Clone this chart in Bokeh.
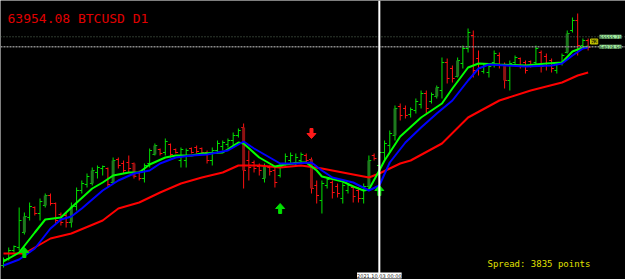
from bokeh.plotting import figure
from bokeh.models import Range1d, Span, Label, ColumnDataSource
from bokeh.embed import file_html
from bokeh.resources import INLINE

symbol_text = "63954.08 BTCUSD D1"
spread_text = "Spread: 3835 points"
vline_date = "2021.10.03 00:00"
vline_idx = 72

highs = [32450, 33950, 34250, 39950, 39200, 40700, 40100, 41300, 42050, 42050,
         40700, 39200, 39200, 40700, 42950, 44000, 45050, 45950, 46250, 46250,
         45950, 47450, 47450, 47000, 47750, 46700, 45500, 46550, 48800, 49550,
         48800, 50300, 49550, 48800, 48950, 48800, 48950, 49250, 48950, 48500,
         48950, 50000, 50000, 50300, 51200, 51800, 52550, 48500, 47000, 46550,
         46550, 46250, 45950, 46550, 48050, 48200, 48050, 48200, 48050, 47450,
         44000, 44000, 44450, 44000, 43550, 43700, 43550, 43250, 42950, 43550,
         47750, 48050, 48500, 50000, 51500, 55250, 55550, 55250, 54950, 56300,
         57500, 57500, 57200, 58250, 62450, 62300, 61250, 62450, 64250, 66800,
         66500, 63500, 61550, 61550, 63500, 63200, 61700, 62000, 62750, 62450,
         62000, 62000, 64250, 63500, 63050, 62300, 61700, 63050, 66500, 68450,
         69050, 65300, 65300]
lows = [30950, 32000, 33200, 33500, 35900, 38000, 38750, 38000, 39950, 40250,
        37550, 37250, 36950, 36950, 39500, 42050, 42950, 43250, 44300, 44750,
        42950, 43550, 45800, 45050, 45200, 44300, 44000, 43700, 45950, 47750,
        47750, 47750, 47450, 48050, 45950, 45950, 48050, 48050, 48050, 46550,
        46250, 48050, 48500, 48950, 49250, 50450, 42800, 44000, 45200, 44750,
        43700, 44750, 42950, 44450, 46250, 46550, 46250, 46700, 46550, 42050,
        40550, 39050, 42800, 41300, 41450, 40550, 42050, 40700, 40700, 40550,
        42800, 47000, 44450, 47000, 48200, 50000, 53000, 53300, 53450, 54050,
        54800, 54050, 55550, 56300, 56300, 58550, 58700, 59450, 60800, 63200,
        59450, 59750, 60050, 59450, 60950, 60800, 57800, 57500, 61250, 60800,
        60050, 60950, 61250, 60200, 60500, 60200, 60050, 61250, 63050, 66200,
        62750, 63950, 63500]
opens = [31250, 32300, 33500, 33950, 36200, 38450, 39950, 39050, 40250, 41750,
         40550, 38900, 38750, 37700, 40100, 42500, 43400, 43550, 45200, 45800,
         45800, 43700, 47150, 46550, 46700, 46550, 45200, 44300, 46550, 47900,
         48650, 48200, 49400, 48650, 47000, 47000, 48800, 48950, 48800, 48200,
         47000, 48500, 49100, 49400, 50000, 50750, 51950, 47000, 46700, 46100,
         44300, 45950, 45500, 44750, 46550, 47000, 46700, 47000, 47750, 47150,
         43250, 41000, 43250, 43700, 43100, 41300, 42500, 42950, 42500, 41300,
         43100, 47750, 46250, 48200, 49250, 50750, 55100, 54800, 53900, 54500,
         55400, 57050, 55850, 56600, 57500, 61700, 60800, 59600, 61550, 63800,
         65750, 62300, 60350, 60200, 61700, 62750, 61400, 59000, 61700, 62300,
         61700, 61850, 61700, 63200, 62600, 62000, 60500, 61550, 63200, 66500,
         68000, 64250, 65000]
closes = [32150, 33500, 34100, 38000, 38600, 40100, 39050, 40850, 41750, 40550,
          38000, 37700, 37700, 40100, 42500, 43550, 44600, 45500, 45950, 46100,
          43400, 47000, 46250, 45500, 45800, 44600, 44300, 46250, 48500, 49250,
          48050, 49850, 47900, 48200, 48650, 48500, 48200, 48350, 48200, 47000,
          48500, 49550, 49700, 50000, 50750, 51500, 45500, 45950, 45800, 45500,
          46100, 45350, 43700, 46100, 47600, 47750, 47450, 47900, 47000, 42800,
          41750, 43550, 44150, 42200, 42050, 43250, 43250, 41600, 41300, 43100,
          47000, 47300, 48200, 49550, 51050, 54800, 53750, 53750, 54650, 55850,
          57050, 54800, 56900, 57950, 61700, 59300, 59300, 62000, 63800, 66200,
          60500, 60800, 61250, 61100, 63050, 61400, 59000, 61550, 62450, 61250,
          60500, 61250, 63800, 61100, 61250, 60800, 61400, 62750, 66050, 68000,
          64250, 65000, 63950]
marked_bars = [4, 8, 13, 17, 21, 25, 29, 46, 50, 59, 70, 75, 83, 87, 96, 108]

fast_idx = [0, 3, 6, 8, 11, 13, 17, 19, 21, 24, 26, 28, 31, 33, 36, 38, 42, 45, 46, 49,
            52, 54, 57, 58, 60, 61, 65, 67, 69, 70, 72, 73, 76, 80, 84, 86, 89, 91, 95, 100,
            104, 107, 109, 111, 112]
fast_ma = [31850, 33200, 36200, 38150, 38450, 39950, 42800, 43700, 44750, 45200,
           45200, 46400, 47450, 47750, 47750, 48050, 48200, 49700, 49550, 47450,
           46100, 46400, 46700, 46700, 45500, 44600, 43850, 43100, 42500, 42650,
           45500, 47000, 50600, 53450, 55550, 57800, 60950, 61550, 61400, 61250,
           61550, 61700, 63350, 63950, 64100]
mid_idx = [0, 3, 6, 9, 11, 13, 15, 19, 22, 25, 28, 30, 33, 36, 39, 43, 46, 48, 50, 53,
           56, 59, 61, 63, 67, 70, 72, 74, 77, 80, 83, 86, 89, 91, 93, 100, 105, 107, 109, 111,
           112]
mid_ma = [31250, 32150, 33800, 36800, 38150, 38600, 39800, 42500, 44000, 45050,
          45500, 46550, 47450, 47750, 47900, 48500, 49850, 48800, 47900, 46550,
          46550, 46700, 45500, 44450, 43700, 42500, 43250, 46700, 49700, 51950,
          54050, 56000, 59000, 60800, 61400, 61100, 61250, 61550, 62750, 63800,
          63950]
slow_idx = [0, 4, 9, 13, 19, 22, 26, 30, 34, 38, 42, 45, 49, 53, 57, 61, 65, 68, 70, 72,
            76, 78, 84, 89, 95, 101, 107, 110, 112]
slow_ma = [33050, 33050, 35300, 36050, 38000, 39800, 40700, 42200, 43550, 44450,
           45200, 46250, 46250, 45950, 46250, 45800, 45200, 44750, 44450, 45050,
           46550, 47000, 49550, 53450, 56000, 57500, 58700, 59750, 60200]

buy_idx = [4, 53, 72]
buy_price = [33950, 40550, 43250]
sell_idx = [59]
sell_price = [50300]

level_prices = [65555.71, 64078.50]
level_labels = ["65555.71", "64078.50"]
marker_price = 64850
marker_text = "62"

n = len(highs)
idx = list(range(n))
UP, DN = "#00e000", "#ff1010"
UPD, DND = "#1d7a1d", "#8e1212"
bar_col = [UP if closes[i] >= opens[i] else DN for i in idx]

p = figure(width=625, height=279, x_range=Range1d(-0.575, 119.16), y_range=Range1d(29150, 71000),
           output_backend="svg", toolbar_location=None, min_border=0,
           x_axis_location=None, y_axis_location=None,
           background_fill_color="black", border_fill_color="black")
p.grid.visible = False
p.outline_line_color = None

p.add_layout(Span(location=level_prices[0], dimension="width", line_color="#5d735d", line_dash="1 2", line_width=1))
p.add_layout(Span(location=level_prices[1], dimension="width", line_color="#8a8a8a", line_dash="2 1", line_width=1.5))

src = ColumnDataSource(dict(x=idx, h=highs, l=lows, o=opens, c=closes, col=bar_col,
                            xo=[i - 0.45 for i in idx], xc=[i + 0.45 for i in idx]))
p.segment(x0="x", y0="l", x1="x", y1="h", line_color="col", line_width=1, source=src)
p.segment(x0="xo", y0="o", x1="x", y1="o", line_color="col", line_width=1, source=src)
p.segment(x0="x", y0="c", x1="xc", y1="c", line_color="col", line_width=1, source=src)

mk = [i for i in marked_bars]
p.segment(x0=mk, y0=[opens[i] for i in mk], x1=mk, y1=[closes[i] for i in mk],
          line_color=[UPD if closes[i] >= opens[i] else DND for i in mk], line_width=3)

p.line(slow_idx, slow_ma, line_color="#ff0000", line_width=2)
p.line(fast_idx, fast_ma, line_color="#00ff00", line_width=2)
p.line(mid_idx, mid_ma, line_color="#0000ff", line_width=2)

# signal arrows (size in pixels converted to data units)
bx = 1 / 5.22
py = 150
xs, ys = [], []
for i, pr in zip(buy_idx, buy_price):
    xs.append([i, i + 4.5 * bx, i + 1.5 * bx, i + 1.5 * bx, i - 1.5 * bx, i - 1.5 * bx, i - 4.5 * bx])
    ys.append([pr, pr - 5 * py, pr - 5 * py, pr - 10 * py, pr - 10 * py, pr - 5 * py, pr - 5 * py])
p.patches(xs, ys, fill_color="#00e000", line_color="#00e000")
xs, ys = [], []
for i, pr in zip(sell_idx, sell_price):
    xs.append([i, i + 4.5 * bx, i + 1.5 * bx, i + 1.5 * bx, i - 1.5 * bx, i - 1.5 * bx, i - 4.5 * bx])
    ys.append([pr, pr + 5 * py, pr + 5 * py, pr + 10 * py, pr + 10 * py, pr + 5 * py, pr + 5 * py])
p.patches(xs, ys, fill_color="#ff1a1a", line_color="#ff1a1a")

p.add_layout(Span(location=vline_idx, dimension="height", line_color="white", line_width=2))

for pr, txt in zip(level_prices, level_labels):
    p.add_layout(Label(x=599, x_units="screen", y=pr, y_units="data", text=txt,
                       text_baseline="middle", text_font_size="4.6px", text_font="DejaVu Sans",
                       text_color="#0a2a0a", background_fill_color="#9fe89f"))
p.add_layout(Label(x=590, x_units="screen", y=marker_price, y_units="data", text=marker_text,
                   text_baseline="middle", text_font_size="6px", text_font="DejaVu Sans Mono",
                   text_color="#e0e000", background_fill_color="#3c3c00", border_line_color="#c8c800"))

p.add_layout(Label(x=vline_idx, y=1, y_units="screen", text=vline_date, text_align="center",
                   text_baseline="bottom", text_font_size="5px", text_font="DejaVu Sans",
                   text_color="#202020", background_fill_color="white"))

p.add_layout(Label(x=7, y=261, x_units="screen", y_units="screen", text=symbol_text,
                   text_baseline="alphabetic", text_font="DejaVu Sans Mono", text_font_size="13px",
                   text_color="#e00000"))
p.add_layout(Label(x=487, y=16, x_units="screen", y_units="screen", text=spread_text,
                   text_baseline="alphabetic", text_font="DejaVu Sans Mono", text_font_size="9px",
                   text_color="#e0e000"))

open("out.html", "w").write(file_html(p, INLINE))
